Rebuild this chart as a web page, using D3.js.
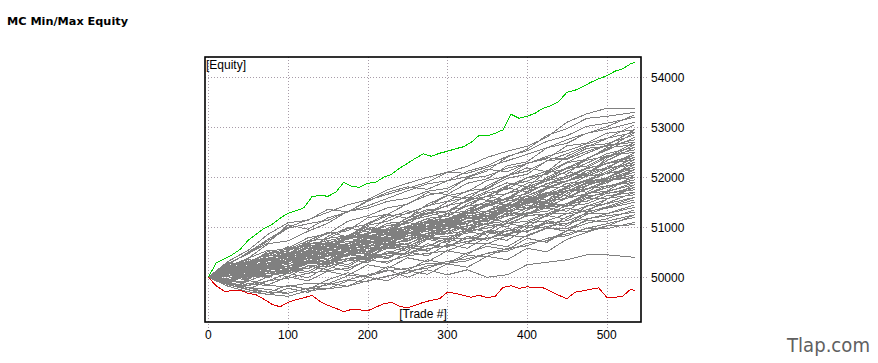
<!DOCTYPE html>
<html>
<head>
<meta charset="utf-8">
<script src="https://cdn.jsdelivr.net/npm/d3@7"></script>
<style>
  body { margin: 0; background: #fff; }
  svg { display: block; }
</style>
</head>
<body>
<div id="chart"></div>
<script>
// trade numbers used for the Monte Carlo runs (every 25 trades, last at 535)
var runTrades = [0,25,50,75,100,125,150,175,200,225,250,275,300,325,350,375,400,425,450,475,500,535];

// equity of each simulated run
var runs = [
  [50000,50250,50500,50760,51000,51150,51300,51450,51550,51750,51880,52000,52100,52220,52400,52520,52620,52800,53100,53270,53380,53380],
  [50000,50320,50540,50860,51090,51140,51360,51310,51520,51700,51810,51760,51930,52010,52160,52110,52280,52390,52360,52520,52640,52700],
  [50000,50080,50290,50360,50540,50690,50880,50930,51190,51260,51470,51640,51720,51990,52130,52400,52560,52840,52970,53180,53220,53300],
  [50000,50170,50260,50520,50580,50790,50870,51120,51230,51390,51460,51690,51660,51880,51970,52230,52310,52590,52680,52880,52960,53100],
  [50000,50030,50230,50270,50480,50520,50780,50830,51040,51120,51290,51420,51630,51710,51940,52020,52280,52370,52630,52680,52880,52950],
  [50000,50230,50310,50480,50560,50730,50770,50980,51060,51230,51270,51430,51520,51730,51780,52040,52120,52330,52470,52630,52670,52850],
  [50000,50120,50110,50330,50420,50630,50670,50830,50870,51080,51120,51330,51420,51640,51770,51980,52060,52330,52370,52580,52620,52750],
  [50000,49980,50130,50220,50340,50470,50690,50760,50890,50970,51190,51270,51440,51510,51690,51760,51990,52060,52290,52360,52590,52650],
  [50000,50170,50230,50380,50470,50580,50620,50790,50870,51040,51070,51290,51320,51540,51620,51840,51920,52090,52170,52340,52420,52550],
  [50000,50030,50180,50170,50380,50420,50630,50670,50880,50920,51130,51220,51330,51420,51630,51670,51880,51960,52180,52220,52430,52500],
  [50000,50120,50230,50430,50420,50580,50620,50780,50820,50930,51020,51180,51220,51430,51470,51680,51770,51930,52020,52180,52270,52400],
  [50000,49940,50080,50120,50330,50370,50530,50620,50780,50870,51030,51120,51280,51320,51530,51570,51780,51820,52030,52080,52280,52350],
  [50000,50180,50270,50380,50370,50530,50570,50680,50770,50930,50970,51130,51170,51330,51420,51580,51670,51880,51920,52130,52170,52300],
  [50000,50030,50130,50220,50380,50370,50580,50620,50730,50820,50980,51020,51180,51270,51430,51520,51630,51780,51930,52020,52180,52250],
  [50000,50130,50170,50280,50320,50480,50470,50630,50680,50830,50920,51080,51120,51280,51320,51530,51570,51780,51820,52030,52070,52200],
  [50000,49930,50030,50070,50230,50270,50480,50520,50680,50720,50880,50920,51080,51170,51330,51420,51580,51670,51880,51920,52080,52150],
  [50000,50120,50130,50330,50320,50480,50520,50630,50670,50830,50870,51030,51070,51230,51270,51430,51520,51680,51770,51930,51970,52100],
  [50000,50070,50130,50230,50220,50380,50420,50580,50620,50780,50820,50980,51020,51180,51220,51380,51470,51630,51720,51880,51920,52050],
  [50000,49980,50130,50170,50330,50320,50430,50470,50630,50670,50830,50870,51030,51070,51280,51320,51480,51520,51730,51770,51930,52000],
  [50000,50170,50180,50330,50320,50430,50420,50580,50620,50780,50820,50980,51020,51180,51170,51330,51370,51530,51570,51780,51820,51950],
  [50000,50030,50130,50120,50280,50320,50430,50470,50580,50620,50780,50820,50980,51020,51180,51220,51380,51420,51580,51670,51830,51900],
  [50000,49930,50080,50070,50230,50270,50430,50470,50630,50670,50730,50880,50920,51030,51070,51230,51270,51430,51470,51680,51720,51850],
  [50000,50130,50120,50280,50270,50380,50420,50530,50570,50680,50720,50880,50870,51030,51070,51230,51270,51430,51470,51630,51670,51800],
  [50000,50070,50030,50180,50170,50330,50320,50480,50520,50630,50670,50830,50870,50930,51080,51120,51280,51320,51480,51520,51680,51750],
  [50000,49930,50030,50020,50180,50170,50330,50370,50430,50580,50620,50780,50820,50880,51030,51070,51230,51270,51430,51470,51630,51700],
  [50000,50130,50080,50230,50220,50330,50320,50480,50470,50630,50620,50780,50770,50930,50980,51080,51120,51280,51270,51430,51470,51600],
  [50000,49980,50080,50070,50180,50270,50280,50380,50430,50480,50630,50620,50780,50770,50930,50920,51080,51130,51270,51320,51380,51500],
  [50000,49930,49920,50080,50070,50230,50220,50330,50370,50430,50480,50630,50620,50780,50770,50930,50920,51080,51130,51280,51270,51400],
  [50000,49880,49830,49930,49980,50080,50130,50180,50330,50320,50430,50480,50530,50680,50670,50830,50820,50980,50970,51130,51120,51250],
  [50000,49930,49880,49830,49820,49880,49870,50030,50020,50130,50180,50280,50270,50430,50420,50580,50630,50780,50830,50980,50970,51100],
  [50000,49880,49790,49760,49680,49780,49770,49930,49920,50030,50080,50230,50280,50330,50480,50520,50680,50730,50930,50920,51030,51050],
  [50000,49850,49750,49700,49680,49780,49850,49950,50050,50150,50000,50150,50050,50150,50000,50050,50250,50300,50350,50450,50450,50400],
  [50000,49820,49710,49660,49620,49730,49770,49820,49930,50020,50130,50180,50320,50370,50480,50570,50630,50780,50870,50980,51070,51200],
  [50000,50270,50480,50730,50980,51070,51140,51320,51380,51520,51580,51720,51780,51970,52030,52180,52270,52420,52530,52670,52780,52900],
  [50000,50220,50380,50670,50730,50920,51080,51320,51430,51580,51730,51870,51930,52120,52230,52420,52530,52720,52830,53020,53080,53200],
  [50000,50120,50180,50230,50330,50520,50630,50720,50730,50870,50980,51120,51130,51320,51430,51570,51680,51870,51980,52170,52280,52450],
  [50000,50170,50280,50470,50530,50670,50730,50820,50780,50870,50880,50970,50980,51120,51230,51420,51480,51670,51730,51870,51930,52050],
  [50000,50170,50280,50420,50530,50670,50680,50820,50830,50870,50930,51020,51030,51120,51130,51270,51280,51420,51430,51570,51580,51650],
  [50000,49930,50020,50030,50120,50180,50320,50430,50620,50680,50870,50980,51170,51280,51470,51580,51820,51930,52120,52280,52470,52600],
  [50000,50070,50030,50120,50130,50270,50280,50370,50380,50470,50480,50570,50630,50720,50780,50870,50930,51020,51080,51170,51230,51300],
  [50000,50250,50180,50430,50610,50540,50820,50990,50910,51180,51330,51260,51510,51600,51540,51820,51990,52130,52060,52380,52540,52800],
  [50000,49870,50060,50210,50150,50390,50310,50560,50720,50650,50880,50790,51040,51190,51120,51380,51540,51470,51720,51900,51990,52200],
  [50000,50190,50360,50270,50510,50440,50690,50600,50470,50730,50890,50800,51050,50960,51210,51330,51250,51500,51410,51680,51790,51950],
  [50000,50090,49980,50210,50370,50290,50540,50680,50590,50850,50760,51020,51150,51060,51330,51460,51380,51640,51810,51930,52080,52350],
  [50000,50140,50330,50240,50480,50660,50570,50810,50980,50890,51140,51290,51210,51470,51620,51540,51800,51960,52110,52030,52380,52650],
  [50000,49890,49760,49930,50080,49990,50220,50130,50360,50280,50510,50430,50660,50580,50810,50740,50980,51090,51020,51260,51390,51550],
  [50000,50240,50130,50390,50300,50530,50710,50620,50850,50770,51000,50920,51160,51300,51210,51450,51370,51620,51780,51700,51930,52100],
  [50000,49940,50120,50290,50200,50450,50360,50600,50520,50770,50910,50830,51090,51250,51160,51420,51560,51700,51630,51910,52170,52500],
  [50000,50160,50380,50540,50460,50730,50900,50810,51080,51260,51180,51460,51640,51560,51830,52020,52190,52110,52420,52610,52770,53050],
  [50000,50100,49960,50180,50090,50320,50240,50460,50380,50600,50520,50760,50680,50920,50840,51080,51000,51250,51380,51310,51560,51800],
  [50000,50210,50100,50340,50500,50420,50640,50560,50790,50710,50950,51090,51010,51250,51170,51420,51560,51480,51730,51880,51990,52250],
  [50000,49910,49790,49700,49840,49760,49950,50090,50010,50210,50140,50350,50270,50490,50620,50550,50780,50700,50940,51080,51170,51350],
  [50000,50090,50270,50190,50430,50610,50530,50780,50960,50870,51130,51290,51210,51470,51630,51790,51710,52000,52190,52370,52560,52900],
  [50000,50180,50090,50290,50200,50430,50350,50580,50500,50730,50650,50880,51020,50940,51180,51100,51350,51480,51410,51660,51790,52000],
  [50000,49920,50080,49990,50200,50110,50340,50250,50470,50390,50610,50530,50760,50680,50900,50820,51050,50970,51210,51350,51480,51700],
  [50000,50300,50200,50450,50380,50620,50540,50790,50700,50950,51100,51020,51270,51190,51440,51590,51510,51770,51920,52060,52200,52450],
  [50000,50060,50220,50130,50350,50270,50500,50420,50660,50800,50720,50960,50880,51130,51050,51300,51440,51370,51610,51760,51890,52150],
  [50000,49950,49840,50010,50150,50070,50290,50210,50440,50370,50600,50520,50760,50680,50930,50850,51090,51240,51160,51420,51560,51850],
  [50000,50140,50040,50280,50460,50380,50620,50540,50780,50940,50860,51110,51030,51280,51450,51370,51630,51800,51930,52080,52330,52600],
  [50000,50080,49940,49850,50010,49930,50120,50040,50250,50180,50390,50310,50530,50460,50680,50610,50840,50990,50920,51160,51270,51450],
  [50000,50280,50470,50690,51050,50960,51190,51300,51540,51660,51780,51900,52100,52080,52200,52330,52460,52590,52750,52880,53010,53250],
  [50000,50130,50280,50200,50420,50340,50560,50480,50710,50630,50870,51020,50940,51190,51110,51360,51510,51430,51680,51840,51980,52300],
  [50000,50050,49920,50090,50010,50230,50150,50370,50290,50520,50440,50670,50600,50820,50740,50980,50900,51130,51060,51300,51410,51600],
  [50000,49900,50060,50200,50110,50340,50250,50480,50400,50630,50560,50790,50710,50950,51090,51010,51260,51390,51320,51580,51720,52050],
  [50000,50200,50360,50270,50500,50420,50660,50580,50820,50740,50990,51130,51050,51300,51220,51470,51620,51540,51800,51950,52110,52400],
  [50000,49860,49750,49650,49780,49700,49880,49820,50000,49930,50130,50060,50270,50200,50420,50350,50580,50510,50760,50900,51020,51250],
  [50000,50110,50300,50220,50460,50650,50560,50830,51010,50920,51190,51360,51280,51550,51720,51890,51810,52110,52300,52480,52640,52950],
  [50000,50160,50040,50250,50160,50390,50300,50530,50450,50680,50600,50830,50760,50990,50910,51150,51290,51210,51460,51600,51700,51900],
  [50000,50010,50170,50340,50250,50500,50420,50670,50840,50760,51010,51170,51090,51360,51520,51440,51710,51870,52020,52190,52400,52700],
  [50000,50230,50140,50370,50290,50520,50440,50680,50600,50840,50990,50910,51160,51080,51330,51250,51500,51640,51570,51830,51960,52150]
];

// min / max envelope (every 10 trades, last at 535)
var envTrades = [0,10,20,30,40,50,60,70,80,90,100,110,120,130,140,150,160,170,180,190,200,210,220,230,240,250,260,270,280,290,300,310,320,330,340,350,360,370,380,390,400,410,420,430,440,450,460,470,480,490,500,510,520,530,535];
var maxEquity = [50000,50290,50370,50450,50560,50740,50860,50980,51060,51180,51280,51330,51390,51610,51640,51620,51700,51900,51820,51800,51880,51900,52000,52060,52180,52280,52380,52470,52420,52480,52520,52570,52610,52700,52840,52830,52880,52950,53260,53180,53220,53280,53380,53430,53520,53700,53740,53810,53900,53970,54030,54120,54170,54270,54300];
var minEquity = [50000,49830,49720,49730,49740,49680,49650,49560,49460,49410,49500,49550,49590,49640,49520,49440,49380,49310,49360,49350,49330,49400,49470,49500,49420,49390,49440,49500,49540,49570,49700,49680,49640,49600,49640,49590,49620,49800,49830,49780,49810,49790,49790,49720,49640,49570,49700,49730,49760,49790,49600,49600,49620,49760,49740];

var xTicks = [0,100,200,300,400,500];
var yTicks = [50000,51000,52000,53000,54000];

var svg = d3.select("#chart")
  .append("svg")
    .attr("width", 878)
    .attr("height", 363);

var box = {left: 205, top: 57, right: 641, bottom: 322};

var x = d3.scaleLinear().domain([0, 500]).range([208.3, 606.7]);
var y = d3.scaleLinear().domain([50000, 54000]).range([277.3, 77.3]);

// title
svg.append("text")
  .attr("x", 7).attr("y", 24.5)
  .attr("textLength", 121).attr("lengthAdjust", "spacingAndGlyphs")
  .style("font-family", "'DejaVu Sans', Verdana, sans-serif")
  .style("font-weight", "bold")
  .style("font-size", "11px")
  .style("fill", "#000")
  .text("MC Min/Max Equity");

// dotted grid, horizontal runs out to the labels, vertical drops below the box
svg.append("g").selectAll("line")
  .data(yTicks).enter().append("line")
    .attr("x1", box.left).attr("x2", 648)
    .attr("y1", function(d){ return Math.round(y(d)) + 0.5; })
    .attr("y2", function(d){ return Math.round(y(d)) + 0.5; })
    .style("stroke", "#a89ca8").style("stroke-dasharray", "1,2")
    .style("shape-rendering", "crispEdges");

svg.append("g").selectAll("line")
  .data(xTicks).enter().append("line")
    .attr("x1", function(d){ return Math.round(x(d)) + 0.5; })
    .attr("x2", function(d){ return Math.round(x(d)) + 0.5; })
    .attr("y1", box.top).attr("y2", 328)
    .style("stroke", "#a89ca8").style("stroke-dasharray", "1,2")
    .style("shape-rendering", "crispEdges");

// clip to the plot box
svg.append("clipPath").attr("id", "plotclip")
  .append("rect")
    .attr("x", box.left).attr("y", box.top)
    .attr("width", box.right - box.left).attr("height", box.bottom - box.top);

var plot = svg.append("g").attr("clip-path", "url(#plotclip)");

var runLine = d3.line()
  .x(function(d, i){ return x(runTrades[i]); })
  .y(function(d){ return y(d); });

plot.append("g").selectAll("path")
  .data(runs).enter().append("path")
    .attr("d", runLine)
    .style("fill", "none")
    .style("stroke", "#808080")
    .style("stroke-width", 1)
    .style("shape-rendering", "crispEdges");

var envLine = d3.line()
  .x(function(d, i){ return x(envTrades[i]); })
  .y(function(d){ return y(d); });

plot.append("path").datum(maxEquity)
  .attr("d", envLine)
  .style("fill", "none").style("stroke", "#00cc00").style("stroke-width", 1)
  .style("shape-rendering", "crispEdges");

plot.append("path").datum(minEquity)
  .attr("d", envLine)
  .style("fill", "none").style("stroke", "#dd0000").style("stroke-width", 1)
  .style("shape-rendering", "crispEdges");

// box
svg.append("rect")
  .attr("x", box.left).attr("y", box.top)
  .attr("width", box.right - box.left).attr("height", box.bottom - box.top)
  .style("fill", "none").style("stroke", "#000").style("stroke-width", 1.6);

// axis labels inside the box
svg.append("text")
  .attr("x", 206).attr("y", 68.5)
  .style("font-family", "'Liberation Sans', Arial, sans-serif")
  .style("font-size", "12px")
  .text("[Equity]");

svg.append("text")
  .attr("x", (box.left + box.right) / 2).attr("y", 318)
  .attr("text-anchor", "middle")
  .style("font-family", "'Liberation Sans', Arial, sans-serif")
  .style("font-size", "12px")
  .text("[Trade #]");

// tick labels
svg.append("g").selectAll("text")
  .data(yTicks).enter().append("text")
    .attr("x", 651)
    .attr("y", function(d){ return y(d) + 5; })
    .style("font-family", "'Liberation Sans', Arial, sans-serif")
    .style("font-size", "12px")
    .text(function(d){ return d; });

svg.append("g").selectAll("text")
  .data(xTicks).enter().append("text")
    .attr("x", function(d){ return x(d); })
    .attr("y", 339)
    .attr("text-anchor", "middle")
    .style("font-family", "'Liberation Sans', Arial, sans-serif")
    .style("font-size", "12px")
    .text(function(d){ return d; });

// watermark
svg.append("text")
  .attr("x", 787).attr("y", 352)
  .attr("textLength", 83).attr("lengthAdjust", "spacingAndGlyphs")
  .style("font-family", "'DejaVu Sans', sans-serif")
  .style("font-size", "19px")
  .style("fill", "#606060")
  .text("Tlap.com");
</script>
</body>
</html>
